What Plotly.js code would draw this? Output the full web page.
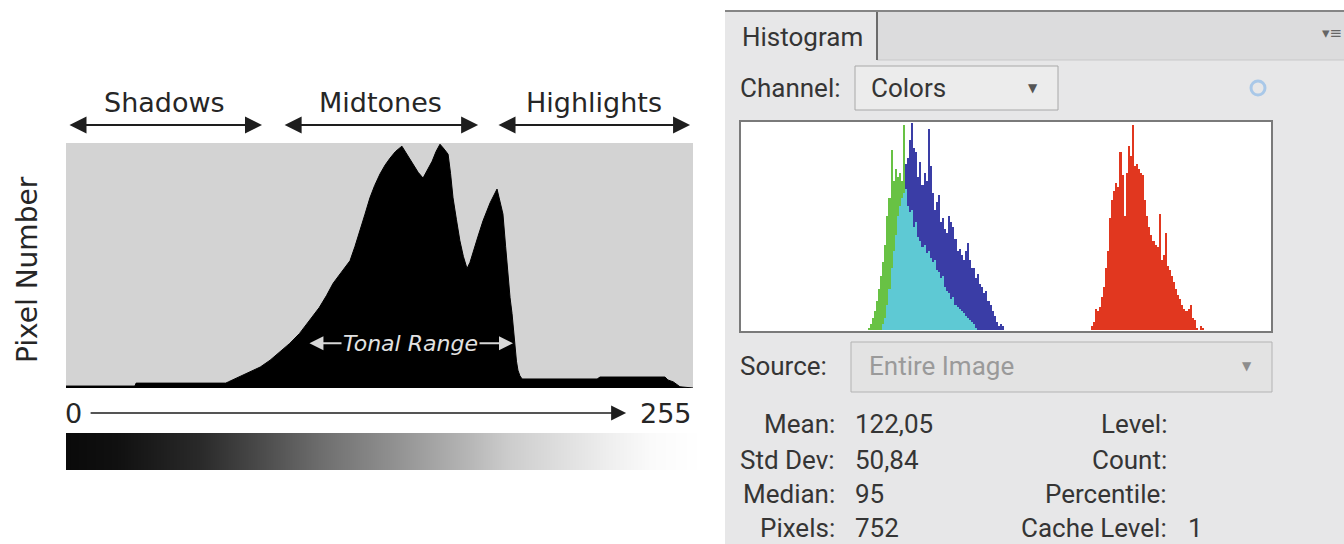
<!DOCTYPE html>
<html>
<head>
<meta charset="utf-8">
<script src="https://cdn.plot.ly/plotly-3.0.1.min.js"></script>
<style>
  html, body { margin: 0; padding: 0; background: #ffffff; }
  #chart { width: 1344px; height: 544px; }
</style>
</head>
<body>
<div id="chart"></div>
<script>
// ---------- DATA ----------
// Left: schematic tonal histogram (tone level 0..255, relative pixel count 0..100)
const toneX = [0, 28, 28.5, 65, 66, 69.5, 74, 79, 83, 87, 91, 95, 99, 103, 106, 108.6, 112, 115.5, 117.5, 119.6,
  121.5, 123.6, 125.5, 127.7, 129.8, 131.8, 134, 136.6, 138.8, 141.1, 143.2, 145.2, 147, 148.9, 150.5, 152.1,
  153.8, 155.4, 156.4, 157.4, 158.8, 160.2, 161.6, 163.1, 164.3, 165.5, 167.5, 169.6, 172.5, 175.3, 176.5,
  177.7, 178.8, 179.8, 180.6, 181.4, 182, 182.6, 183.2, 183.8, 184.6, 185.5, 216, 217.2, 243.6, 244.8, 247, 249.7, 255];
const toneCount = [0.8, 0.8, 2.0, 2.0, 2.5, 4.1, 6, 8.6, 11.4, 14.7, 18.3, 22.4, 27.5, 33, 38, 42.9, 47.5, 52.2, 58, 64.5,
  71, 78, 83, 87.8, 91.5, 94.3, 97, 99.2, 95.5, 91.8, 88.5, 86.1, 89.5, 93, 97, 100,
  98, 95.9, 88, 78, 69, 60.4, 54, 49, 51.5, 55.1, 62, 68.6, 76, 81.6, 77,
  71.4, 58, 44.1, 37, 30.6, 23, 16.7, 11, 7.3, 5, 3.7, 3.7, 4.5, 4.5, 3.3, 2.5, 0.5, 0];

// Gradient strip: brightness read at tone positions
const gradX = [0, 20, 54, 80, 104, 136, 160, 178, 200, 217, 234, 255];
const gradTone = [10, 16, 42, 78, 112, 150, 180, 205, 224, 238, 250, 255];

// Top section labels and ranges (tone units)
const sectionNames = ['Shadows', 'Midtones', 'Highlights'];
const sectionFrom = [0.8, 88.3, 175.3];
const sectionTo = [79.7, 167.6, 253.8];

// Right: Photoshop "Colors" histogram, per level (relative counts 0..100)
const blueStart = 68;
const blueValues = [3,6,12,20,30,38,46,55,60,64,66,80,83,92,100,88,86,74,81,70,76,72,97,79,66,58,62,65,52,54,
  49,47,55,52,50,44,38,39,36,34,38,42,34,30,30,25,27,22,21,18,19,14,12,9,7,4,2,3,2];
const greenStart = 61;
const greenValues = [1,3,6,9,14,20,26,33,41,55,64,87,72,78,74,76,72,99,68,60,57,58,50,52,45,43,40,41,37,38,
  35,33,34,29,28,25,26,21,19,18,15,16,12,11,10,9,8,7,6,5,4,3,1];
const redStart = 169;
const redValues = [2,4,10,9,11,16,21,30,38,54,63,67,71,69,86,75,55,76,89,84,99,79,80,78,76,75,63,55,50,46,
  43,41,40,56,34,36,47,31,29,26,23,20,17,15,12,10,9,10,12,6,5,1,0,2,1];

// Panel text
const statLabels = ['Mean:', 'Std Dev:', 'Median:', 'Pixels:'];
const statValues = ['122,05', '50,84', '95', '752'];
const infoLabels = ['Level:', 'Count:', 'Percentile:', 'Cache Level:'];
const infoValues = ['', '', '', '1'];

// ---------- HELPERS (layout only) ----------
const W = 1344, H = 544;
const px = x => x / W;
const py = y => 1 - y / H;

const levels = (start, arr) => arr.map((_, i) => start + i);
const blueX = levels(blueStart, blueValues);
const greenX = levels(greenStart, greenValues);
const redX = levels(redStart, redValues);
// overlap of green and blue channels shows as cyan
const cyanX = [], cyanY = [];
blueX.forEach((lv, i) => {
  const gi = lv - greenStart;
  if (gi >= 0 && gi < greenValues.length) {
    cyanX.push(lv);
    cyanY.push(Math.min(blueValues[i], greenValues[gi]));
  }
});

const leftFont = 'DejaVu Sans, Verdana, sans-serif';
const rightFont = 'Roboto, Open Sans, sans-serif';

// ---------- TRACES ----------
const traces = [
  {
    type: 'scatter', mode: 'lines', x: toneX, y: toneCount,
    fill: 'tozeroy', fillcolor: '#000000', line: { color: '#000000', width: 1 },
    xaxis: 'x', yaxis: 'y', hoverinfo: 'skip'
  },
  {
    type: 'heatmap', x: gradX, y: [0, 1], z: [gradTone, gradTone],
    zmin: 0, zmax: 255, zsmooth: 'best', showscale: false,
    colorscale: [[0, '#000000'], [1, '#ffffff']],
    xaxis: 'x2', yaxis: 'y2', hoverinfo: 'skip'
  },
  { type: 'bar', x: blueX, y: blueValues, width: 1, marker: { color: '#3a3da6', line: { width: 0 } }, xaxis: 'x3', yaxis: 'y3', hoverinfo: 'skip' },
  { type: 'bar', x: greenX, y: greenValues, width: 1, marker: { color: '#68c244', line: { width: 0 } }, xaxis: 'x3', yaxis: 'y3', hoverinfo: 'skip' },
  { type: 'bar', x: cyanX, y: cyanY, width: 1, marker: { color: '#5ec9d4', line: { width: 0 } }, xaxis: 'x3', yaxis: 'y3', hoverinfo: 'skip' },
  { type: 'bar', x: redX, y: redValues, width: 1, marker: { color: '#e1371f', line: { width: 0 } }, xaxis: 'x3', yaxis: 'y3', hoverinfo: 'skip' }
];

// ---------- SHAPES ----------
const shapes = [
  // left grey plot background
  { type: 'rect', xref: 'x domain', yref: 'y domain', x0: 0, x1: 1, y0: 0, y1: 1, fillcolor: '#d3d3d3', line: { width: 0 }, layer: 'below' },
  // right panel background
  { type: 'rect', xref: 'paper', yref: 'paper', x0: px(725), x1: 1, y0: 0, y1: py(11), fillcolor: '#e7e7e8', line: { width: 0 }, layer: 'below' },
  // tab bar (inactive area)
  { type: 'rect', xref: 'paper', yref: 'paper', x0: px(877), x1: 1, y0: py(60), y1: py(12), fillcolor: '#dcdcdd', line: { width: 0 }, layer: 'below' },
  { type: 'line', xref: 'paper', yref: 'paper', x0: px(877), x1: 1, y0: py(60), y1: py(60), line: { color: '#c9c9c9', width: 1 }, layer: 'below' },
  { type: 'line', xref: 'paper', yref: 'paper', x0: px(877), x1: px(877), y0: py(60), y1: py(12), line: { color: '#6b6b6b', width: 2 }, layer: 'below' },
  { type: 'line', xref: 'paper', yref: 'paper', x0: px(725), x1: 1, y0: py(11), y1: py(11), line: { color: '#858585', width: 2 }, layer: 'below' },
  // channel dropdown
  { type: 'rect', xref: 'paper', yref: 'paper', x0: px(855), x1: px(1058), y0: py(110), y1: py(66), fillcolor: '#ececec', line: { color: '#a8a8a8', width: 1 }, layer: 'below' },
  // spinner icon
  { type: 'circle', xref: 'paper', yref: 'paper', x0: px(1251), x1: px(1265), y0: py(95), y1: py(81), line: { color: '#a9c8e8', width: 3 }, layer: 'below' },
  // histogram box
  { type: 'rect', xref: 'paper', yref: 'paper', x0: px(740), x1: px(1272), y0: py(332), y1: py(121), fillcolor: '#ffffff', line: { width: 0 }, layer: 'below' },
  { type: 'rect', xref: 'paper', yref: 'paper', x0: px(740), x1: px(1272), y0: py(332), y1: py(121), fillcolor: 'rgba(0,0,0,0)', line: { color: '#7a7a7a', width: 2 }, layer: 'above' },
  // source dropdown
  { type: 'rect', xref: 'paper', yref: 'paper', x0: px(851), x1: px(1272), y0: py(392), y1: py(342), fillcolor: '#e3e3e3', line: { color: '#b3b3b3', width: 1 }, layer: 'below' }
];

// ---------- ANNOTATIONS ----------
const ann = [];
const txt = (o) => ann.push(Object.assign({ showarrow: false, xanchor: 'center', yanchor: 'middle' }, o));
sectionNames.forEach((name, i) => {
  txt({ xref: 'x', yref: 'paper', x: (sectionFrom[i] + sectionTo[i]) / 2, y: py(102),
    text: name, font: { family: leftFont, size: 27, color: '#262626' } });
  ann.push({
    xref: 'x', yref: 'paper', x: sectionTo[i], y: py(125), axref: 'x', ax: sectionFrom[i], ayref: 'pixel', ay: 0,
    text: '', showarrow: true, arrowhead: 2, startarrowhead: 2, arrowside: 'end+start',
    arrowsize: 1.7, startarrowsize: 1.7, arrowwidth: 2, arrowcolor: '#1e1e1e', standoff: 0, startstandoff: 0
  });
});
// Pixel Number axis
txt({ xref: 'paper', yref: 'paper', x: px(27), y: py(270), text: 'Pixel Number', textangle: -90,
  font: { family: leftFont, size: 28, color: '#262626' } });
ann.push({ xref: 'paper', yref: 'y', x: px(47), y: 101.5, ax: 0, ay: 250, text: '', showarrow: true,
  arrowhead: 2, arrowsize: 2, arrowwidth: 1.5, arrowcolor: '#1e1e1e', standoff: 0 });
// 0 -> 255 axis
txt({ xref: 'paper', yref: 'paper', x: px(73), y: py(413), text: '0',
  font: { family: leftFont, size: 27, color: '#262626' } });
txt({ xref: 'paper', yref: 'paper', x: px(694), xanchor: 'right', y: py(413), text: '255',
  font: { family: leftFont, size: 27, color: '#262626' } });
ann.push({ xref: 'x', yref: 'paper', x: 227.8, y: py(413), axref: 'x', ax: 9.4, ayref: 'pixel', ay: 0, text: '',
  showarrow: true, arrowhead: 2, arrowsize: 2, arrowwidth: 1.5, arrowcolor: '#1e1e1e', standoff: 0 });
// Tonal range
ann.push({ xref: 'x', yref: 'y', x: 181.8, y: 18.4, axref: 'x', ax: 98.4, ayref: 'pixel', ay: 0, text: '',
  showarrow: true, arrowhead: 2, startarrowhead: 2, arrowside: 'end+start', arrowsize: 1.4, startarrowsize: 1.4,
  arrowwidth: 2, arrowcolor: '#d8d8d8', standoff: 0, startstandoff: 0 });
txt({ xref: 'x', yref: 'y', x: 140, y: 18.4, text: 'Tonal Range', bgcolor: '#000000',
  font: { family: leftFont, size: 22, color: '#e2e2e2', style: 'italic' } });

// Right panel text
const rt = (x, y, text, opts = {}) => ann.push(Object.assign({
  xref: 'paper', yref: 'paper', x: px(x), y: py(y), text: text, showarrow: false, xanchor: 'left', yanchor: 'middle',
  font: { family: rightFont, size: 26, color: '#353535' }
}, opts));
rt(740, 37, 'Histogram');
rt(1332, 33, '▾≡', { xanchor: 'center', font: { family: 'DejaVu Sans', size: 15, color: '#666666' } });
rt(738, 88, 'Channel:');
rt(869, 88, 'Colors');
rt(1033, 88, '▼', { xanchor: 'center', font: { family: 'DejaVu Sans', size: 12, color: '#555555' } });
rt(738, 366, 'Source:');
rt(867, 366, 'Entire Image', { font: { family: rightFont, size: 26, color: '#9a9a9a' } });
rt(1247, 366, '▼', { xanchor: 'center', font: { family: 'DejaVu Sans', size: 12, color: '#8d8d8d' } });
const rowY = [424, 460, 494, 528];
statLabels.forEach((t, i) => {
  rt(837, rowY[i], t, { xanchor: 'right' });
  rt(853, rowY[i], statValues[i]);
  rt(1169, rowY[i], infoLabels[i], { xanchor: 'right' });
  if (infoValues[i]) rt(1186, rowY[i], infoValues[i]);
});

// ---------- LAYOUT ----------
const hidden = { visible: false, fixedrange: true };
const layout = {
  width: W, height: H,
  margin: { l: 0, r: 0, t: 0, b: 0, pad: 0 },
  paper_bgcolor: '#ffffff', plot_bgcolor: 'rgba(0,0,0,0)',
  showlegend: false, barmode: 'overlay', bargap: 0,
  xaxis: Object.assign({ domain: [px(66), px(693)], range: [0, 255] }, hidden),
  yaxis: Object.assign({ domain: [py(388), py(143)], range: [0, 100.5] }, hidden),
  xaxis2: Object.assign({ domain: [px(66), px(702)], range: [0, 255], anchor: 'y2' }, hidden),
  yaxis2: Object.assign({ domain: [py(470), py(433)], range: [0, 1], anchor: 'x2' }, hidden),
  xaxis3: Object.assign({ domain: [px(742), px(1270)], range: [-0.5, 255.5], anchor: 'y3' }, hidden),
  yaxis3: Object.assign({ domain: [py(330), py(123)], range: [0, 100], anchor: 'x3' }, hidden),
  shapes: shapes,
  annotations: ann
};

Plotly.newPlot('chart', traces, layout, { staticPlot: true, displayModeBar: false });
</script>
</body>
</html>
